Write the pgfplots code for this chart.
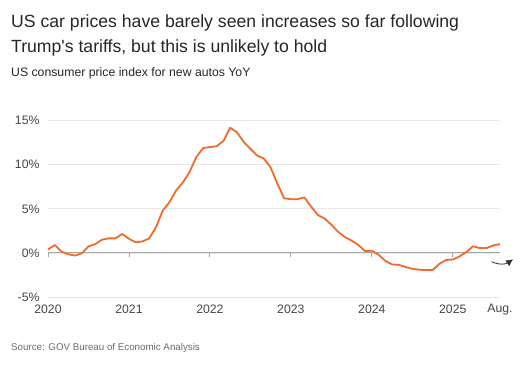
\documentclass[border=0pt]{standalone}
\usepackage{fontspec}
\setmainfont{Liberation Sans}
\usepackage{pgfplots}
\pgfplotsset{compat=1.18}
\usetikzlibrary{arrows.meta}
\definecolor{lineorange}{HTML}{F26A2A}
\definecolor{gridgray}{HTML}{E8E8E8}
\definecolor{zerogray}{HTML}{A8A8A8}
\definecolor{ticktext}{HTML}{444444}
\definecolor{srcgray}{HTML}{6A6A6A}
\begin{document}
\begin{tikzpicture}
\path[use as bounding box] (0bp,0bp) rectangle (531bp,374bp);
\node[anchor=base west,inner sep=0pt,text=black!85,font=\fontsize{17.7}{20}\selectfont] at (11bp,346.7bp) {US car prices have barely seen increases so far following};
\node[anchor=base west,inner sep=0pt,text=black!85,font=\fontsize{17.7}{20}\selectfont] at (11bp,321.3bp) {Trump\textquotesingle s tariffs, but this is unlikely to hold};
\node[anchor=base west,inner sep=0pt,text=black!85,font=\fontsize{12.3}{14}\selectfont] at (11bp,297bp) {US consumer price index for new autos YoY};
\node[anchor=base west,inner sep=0pt,text=srcgray,font=\fontsize{9.8}{11}\selectfont] at (11bp,23.3bp) {Source: GOV Bureau of Economic Analysis};
\begin{axis}[
  at={(48bp,77bp)}, anchor=south west,
  scale only axis, width=452bp, height=176.3bp,
  xmin=0, xmax=5.5833, ymin=-5, ymax=15,
  axis line style={draw=none},
  clip=false,
  /pgf/number format/assume math mode=true,
  ytick={-5,0,5,10,15},
  yticklabels={-5\%,0\%,5\%,10\%,15\%},
  xtick={0,1,2,3,4,5,5.5833},
  xticklabels={2020,2021,2022,2023,2024,2025,Aug.},
  major tick length=0pt,
  ymajorgrids, grid style={gridgray, line width=0.8bp},
  tick label style={text=ticktext, font=\fontsize{12.3}{14}\selectfont},
  yticklabel style={xshift=-5bp},
  xticklabel style={yshift=-4bp},
]
\addplot[zerogray, line width=0.9bp, forget plot] coordinates {(0,0) (5.5833,0)};
\addplot[zerogray, line width=0.9bp, forget plot, ycomb] coordinates {(0,-0.45) (1,-0.45) (2,-0.45) (3,-0.45) (4,-0.45) (5,-0.45)};
\addplot[lineorange, line width=1.8bp, line join=round] coordinates {
(0.0000,0.40) (0.0833,0.90) (0.1667,0.15) (0.2500,-0.15) (0.3333,-0.30) (0.4167,-0.05)
(0.5000,0.75) (0.5833,1.00) (0.6667,1.50) (0.7500,1.65) (0.8333,1.65) (0.9167,2.15)
(1.0000,1.60) (1.0833,1.20) (1.1667,1.30) (1.2500,1.65) (1.3333,2.90) (1.4167,4.80)
(1.5000,5.75) (1.5833,7.10) (1.6667,8.00) (1.7500,9.20) (1.8333,10.90) (1.9167,11.90)
(2.0000,12.00) (2.0833,12.10) (2.1667,12.70) (2.2500,14.20) (2.3333,13.70) (2.4167,12.60)
(2.5000,11.80) (2.5833,11.05) (2.6667,10.70) (2.7500,9.70) (2.8333,7.85) (2.9167,6.20)
(3.0000,6.10) (3.0833,6.10) (3.1667,6.30) (3.2500,5.25) (3.3333,4.30) (3.4167,3.90)
(3.5000,3.20) (3.5833,2.40) (3.6667,1.80) (3.7500,1.40) (3.8333,0.90) (3.9167,0.20)
(4.0000,0.25) (4.0833,-0.20) (4.1667,-0.90) (4.2500,-1.30) (4.3333,-1.35) (4.4167,-1.60)
(4.5000,-1.80) (4.5833,-1.90) (4.6667,-1.95) (4.7500,-1.95) (4.8333,-1.25) (4.9167,-0.80)
(5.0000,-0.75) (5.0833,-0.40) (5.1667,0.10) (5.2500,0.75) (5.3333,0.55) (5.4167,0.55)
(5.5000,0.85) (5.5833,1.00)
};
\draw[black!80, line width=0.8bp, -{Latex[length=7bp,width=7bp]}] (axis cs:5.48,-1.0) to[out=-25,in=215] (axis cs:5.745,-0.72);
\end{axis}
\end{tikzpicture}
\end{document}
